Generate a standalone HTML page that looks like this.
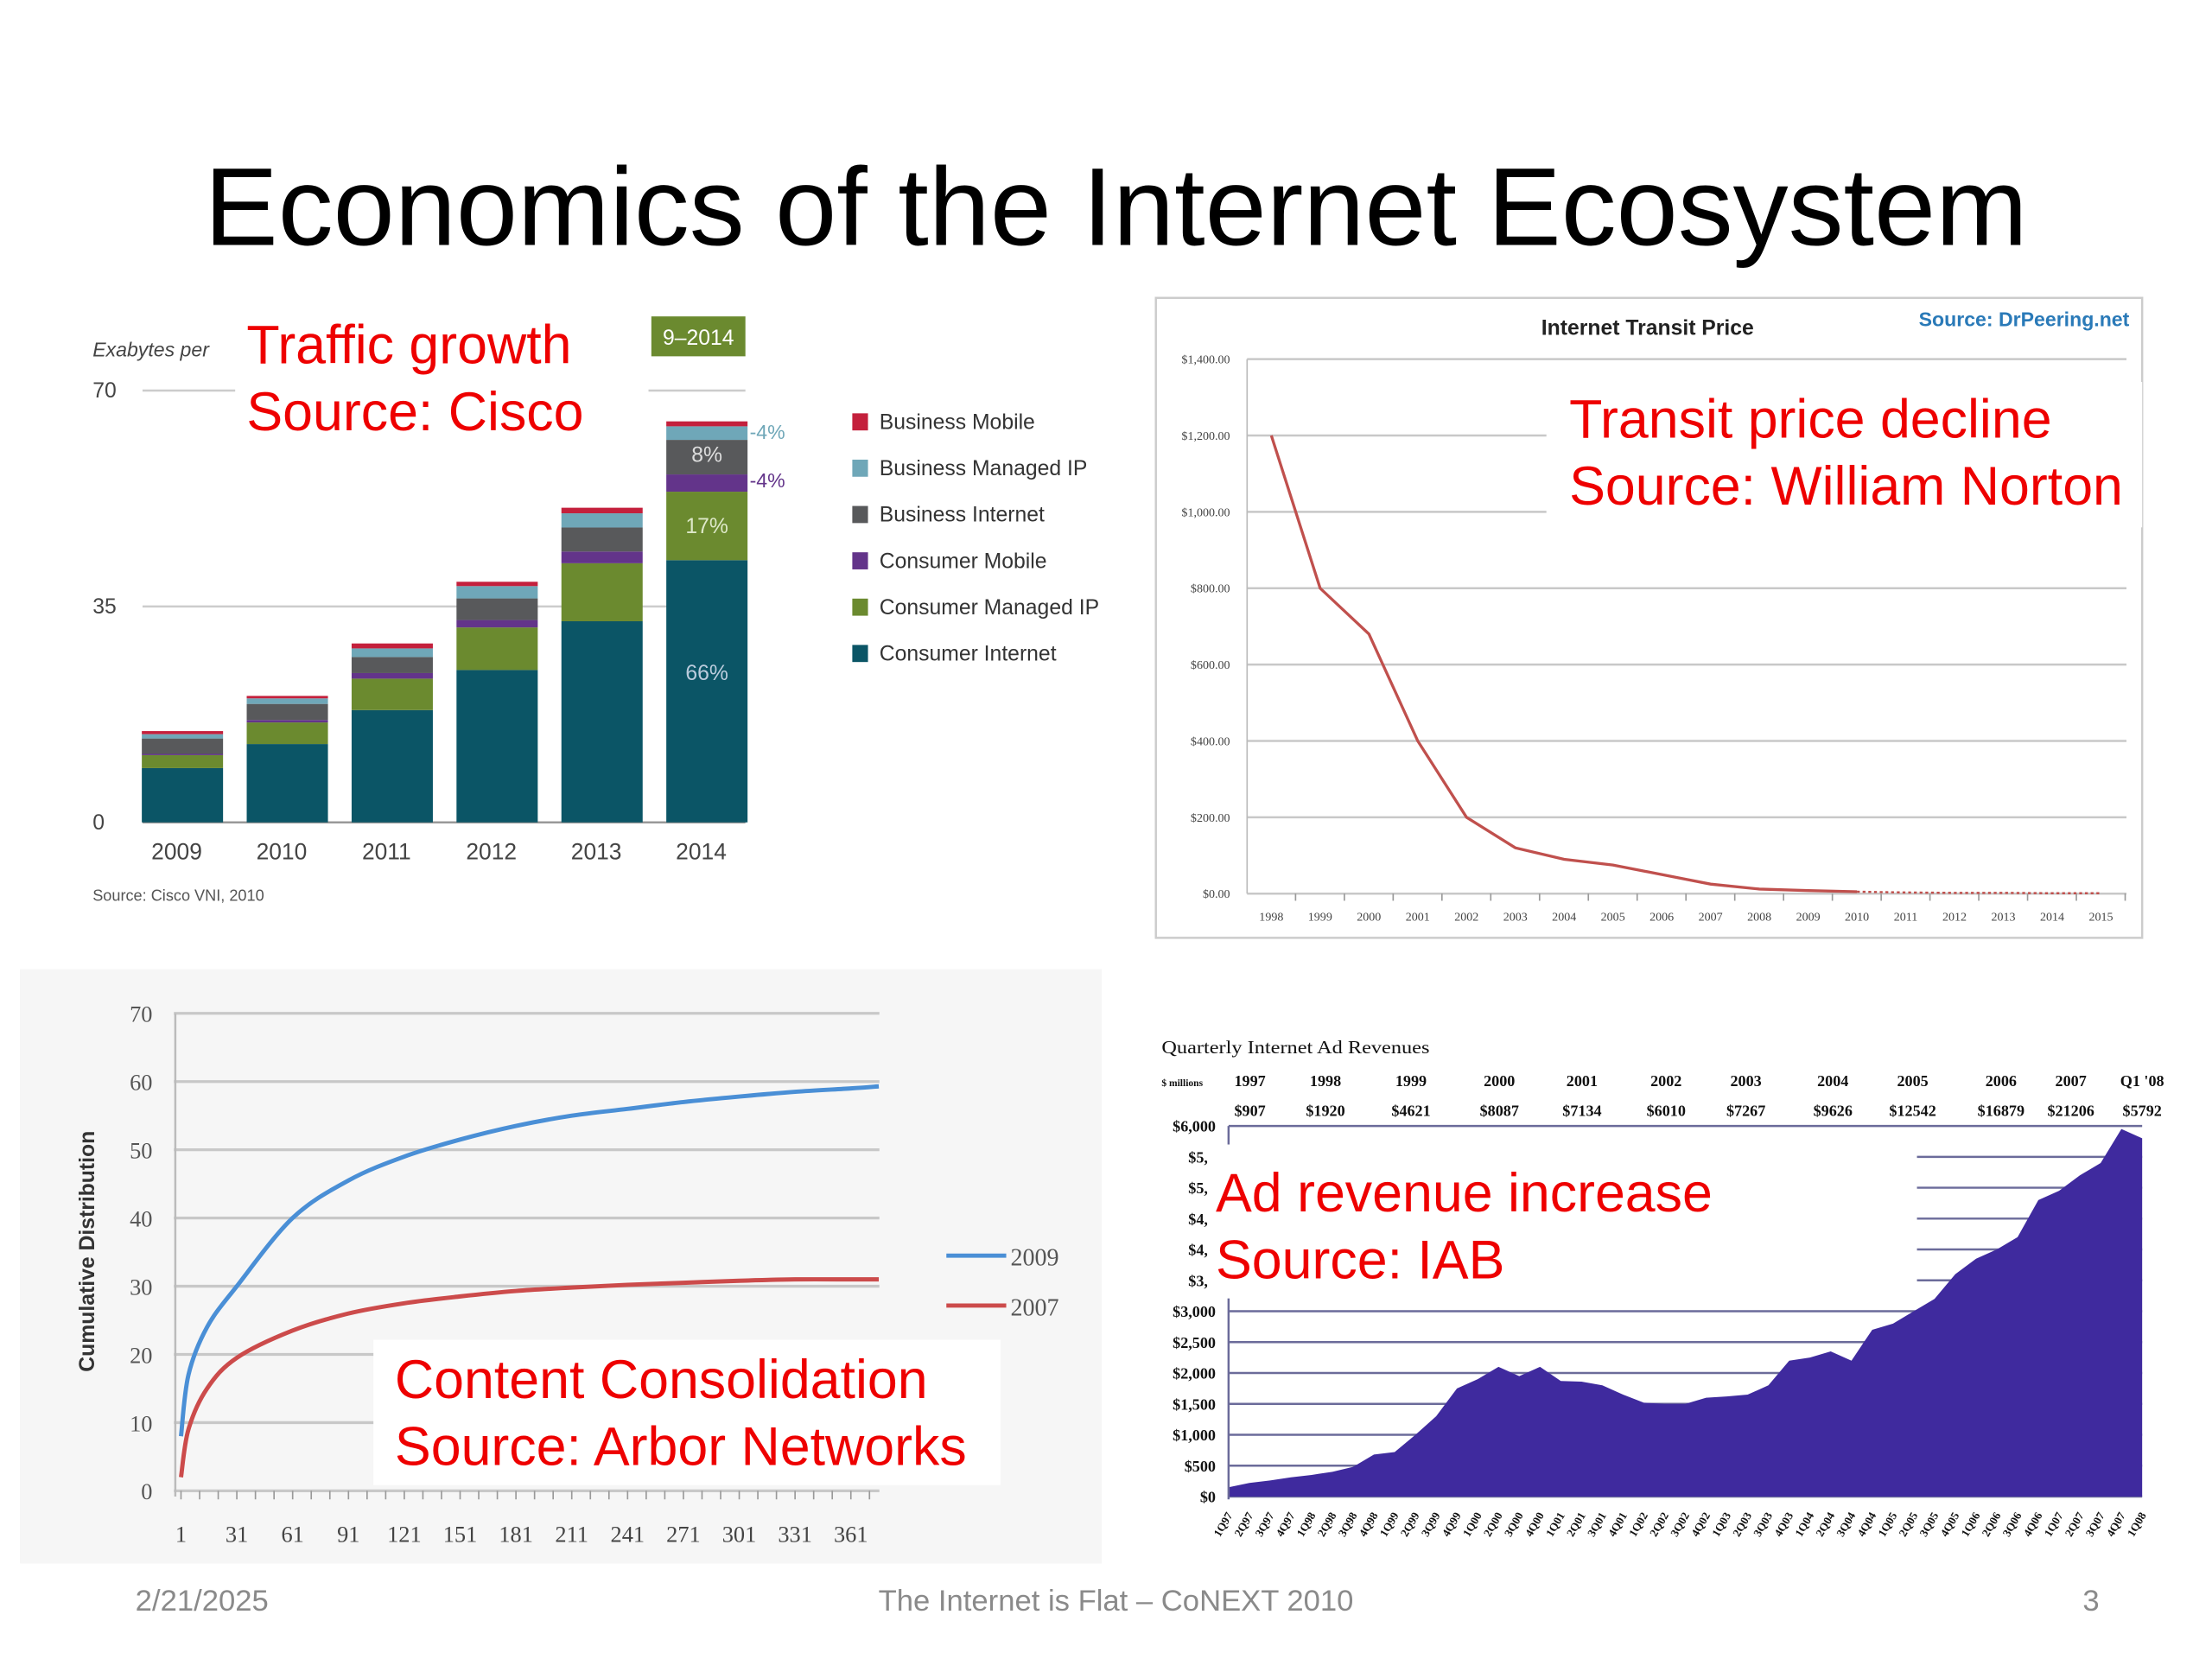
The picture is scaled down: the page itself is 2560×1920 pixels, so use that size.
<!DOCTYPE html>
<html><head><meta charset="utf-8"><style>
html,body{margin:0;padding:0;background:#fff;}
svg{display:block;}
text{font-family:"Liberation Sans",sans-serif;}
.serif{font-family:"Liberation Serif",serif;}
</style></head><body>
<svg id="root" width="2560" height="1920" viewBox="0 0 1552 1164" xmlns="http://www.w3.org/2000/svg">
<rect x="0" y="0" width="1552" height="1164" fill="#fff"/>
<text x="783" y="172" font-size="77.5" text-anchor="middle" fill="#000">Economics of the Internet Ecosystem</text>

<g id="p1">
<text x="65" y="250" font-size="14" font-style="italic" fill="#444">Exabytes per</text>
<text x="65" y="632" font-size="11" fill="#555">Source: Cisco VNI, 2010</text>
<rect x="457" y="222" width="66" height="28" fill="#6b8a2f"/>
<text x="490" y="242" font-size="15" fill="#fff" text-anchor="middle">9–2014</text>
</g>
<rect x="165" y="214" width="290" height="100" fill="#fff"/>
<text x="173" y="255" font-size="38" fill="#ee0000">Traffic growth</text>
<text x="173" y="302" font-size="38" fill="#ee0000">Source: Cisco</text>

<rect x="811" y="209" width="692" height="449" fill="#fff" stroke="#ccc" stroke-width="1.5"/>
<g id="p2">
<text x="1156" y="235" font-size="15" font-weight="bold" fill="#222" text-anchor="middle">Internet Transit Price</text>
<text x="1494" y="229" font-size="14" font-weight="bold" fill="#2a7ab8" text-anchor="end">Source: DrPeering.net</text>
</g>

<rect x="14" y="680" width="759" height="417" fill="#f6f6f6"/>
<g id="p3">
<text x="0" y="0" font-size="15" font-weight="bold" fill="#333" text-anchor="middle" transform="translate(66,878) rotate(-90)">Cumulative Distribution</text>
</g>

<g id="p4">
<text x="815" y="739" font-size="13" class="serif" fill="#111" textLength="188" lengthAdjust="spacingAndGlyphs">Quarterly Internet Ad Revenues</text>
<text x="815" y="762" font-size="7" font-weight="bold" class="serif" fill="#111">$ millions</text>
</g>
</svg>
<script>
const NS='http://www.w3.org/2000/svg';
const trafficYears=['2009','2010','2011','2012','2013','2014'];
const consumerInternet=[8.8,12.7,18.2,24.7,32.6,42.5];
const consumerManagedIP=[2.1,3.5,5.1,6.9,9.4,11.1];
const consumerMobile=[0.2,0.4,0.9,1.2,1.9,2.8];
const businessInternet=[2.5,2.6,2.6,3.5,3.9,5.6];
const businessManagedIP=[0.7,0.9,1.4,2.0,2.3,2.2];
const businessMobile=[0.5,0.4,0.8,0.7,0.9,0.8];
const trafficTicks=[0,35,70];
const transitYears=['1998','1999','2000','2001','2002','2003','2004','2005','2006','2007','2008','2009','2010','2011','2012','2013','2014','2015'];
const transitPrice=[1200,800,680,400,200,120,90,75,50,25,12,8,5,3,2,2,1,1];
const transitTicks=[0,200,400,600,800,1000,1200,1400];
const transitTickLabels=['$0.00','$200.00','$400.00','$600.00','$800.00','$1,000.00','$1,200.00','$1,400.00'];
const rankX=[1,5,15,31,61,91,121,151,181,211,241,271,301,331,361,376];
const cdf2009=[8,17,24,30,40,45.5,49,51.5,53.5,55,56,57,57.8,58.5,59,59.3];
const cdf2007=[2,9,15,19.5,23.5,26,27.5,28.5,29.3,29.8,30.2,30.5,30.8,31,31,31];
const cdfTicks=[0,10,20,30,40,50,60,70];
const rankTicks=[1,31,61,91,121,151,181,211,241,271,301,331,361];
const adRevenue=[150,220,260,310,350,400,480,680,720,1000,1300,1750,1900,2100,1950,2100,1870,1860,1800,1650,1520,1500,1500,1600,1620,1650,1800,2200,2250,2350,2200,2700,2800,3000,3200,3600,3850,4000,4200,4800,4950,5200,5400,5950,5800];
const adTicks=[0,500,1000,1500,2000,2500,3000,3500,4000,4500,5000,5500,6000];
const adTickLabels=['$0','$500','$1,000','$1,500','$2,000','$2,500','$3,000','$3,5','$4,0','$4,5','$5,0','$5,5','$6,000'];
const adYears=['1997','1998','1999','2000','2001','2002','2003','2004','2005','2006','2007',"Q1 '08"];
const adYearTotals=['$907','$1920','$4621','$8087','$7134','$6010','$7267','$9626','$12542','$16879','$21206','$5792'];
const adYearX=[877,930,990,1052,1110,1169,1225,1286,1342,1404,1453,1503];

function mk(tag,attrs,parent,txt){const e=document.createElementNS(NS,tag);for(const k in attrs)e.setAttribute(k,attrs[k]);if(txt!==undefined)e.textContent=txt;(parent||document.getElementById('root')).appendChild(e);return e;}

(function(){
const g=document.getElementById('p1');
const y=v=>577-v*(303/70);
const x=i=>128+i*73.6;
trafficTicks.forEach(t=>{
 const l=mk('line',{x1:100,x2:523,y1:y(t),y2:y(t),stroke:t===0?'#999':'#ccc','stroke-width':1.5},g);
 
 
 const tx=mk('text',{x:65,y:y(t)+5,'font-size':15,fill:'#444'},g,String(t));
 
 
});
const series=[consumerInternet,consumerManagedIP,consumerMobile,businessInternet,businessManagedIP,businessMobile];
const colors=['#0b5566','#6b8a2f','#63348a','#58595b','#6fa7b8','#c4203c'];
const names=['consumer-internet','consumer-managed-ip','consumer-mobile','business-internet','business-managed-ip','business-mobile'];
trafficYears.forEach((yr,i)=>{
 let base=0;
 series.forEach((s,k)=>{
  const r=mk('rect',{x:x(i)-28.5,width:57,y:y(base+s[i]),height:y(base)-y(base+s[i]),fill:colors[k]},g);
  
  
  base+=s[i];
 });
 const t=mk('text',{x:x(i)-4,y:603,'font-size':16,fill:'#444','text-anchor':'middle'},g,yr);
 
 
});
const lx=x(5);
const pl=[['8%',319,'#ddd'],['17%',369,'#dde8c8'],['66%',472,'#bcd']];
pl.forEach(p=>{const t=mk('text',{x:lx,y:p[1]+5,'font-size':15,fill:p[2],'text-anchor':'middle'},g,p[0]);
 
 });
const s1=mk('text',{x:526,y:308,'font-size':14,fill:'#6fa7b8'},g,'-4%');


const s2=mk('text',{x:526,y:342,'font-size':14,fill:'#63348a'},g,'-4%');


const legNames=['Business Mobile','Business Managed IP','Business Internet','Consumer Mobile','Consumer Managed IP','Consumer Internet'];
const legCols=['#c4203c','#6fa7b8','#58595b','#63348a','#6b8a2f','#0b5566'];
legNames.forEach((n,i)=>{
 const yy=296+i*32.5;
 const r=mk('rect',{x:598,y:yy-6,width:11,height:12,fill:legCols[i]},g);
 
 
 const t=mk('text',{x:617,y:yy+5,'font-size':15,fill:'#333'},g,n);
 
 
});
})();

(function(){
const g=document.getElementById('p2');
const y=v=>627-v*(375/1400);
const x=i=>892+i*34.24;
transitTicks.forEach((t,i)=>{
 const l=mk('line',{x1:875,x2:1492,y1:y(t),y2:y(t),stroke:'#c8c8c8','stroke-width':1.5},g);
 
 
 const tx=mk('text',{x:863,y:y(t)+3,'font-size':8.5,fill:'#444','text-anchor':'end',class:'serif'},g,transitTickLabels[i]);
 
 
});
const ax=mk('line',{x1:875,x2:875,y1:252,y2:627,stroke:'#bbb','stroke-width':1},g);


transitYears.forEach((yr,i)=>{
 const t=mk('text',{x:x(i),y:646,'font-size':8.5,fill:'#444','text-anchor':'middle',class:'serif'},g,yr);
 
 
 const tk=mk('line',{x1:x(i)+17,x2:x(i)+17,y1:627,y2:632,stroke:'#999'},g);
 
 
});
const solidN=13;
let d='';for(let i=0;i<solidN;i++)d+=(i?'L':'M')+x(i)+','+y(transitPrice[i]);
const p=mk('path',{d:d,fill:'none',stroke:'#c0504d','stroke-width':2},g);


let d2='';for(let i=solidN-1;i<transitPrice.length;i++)d2+=(i===solidN-1?'M':'L')+x(i)+','+y(transitPrice[i]);
const p2=mk('path',{d:d2,fill:'none',stroke:'#c0504d','stroke-width':1.5,'stroke-dasharray':'2,2'},g);


const box=mk('rect',{x:1085,y:268,width:418,height:102,fill:'#fff'},g);


const a1=mk('text',{x:1101,y:307,'font-size':38,fill:'#ee0000'},g,'Transit price decline');


const a2=mk('text',{x:1101,y:354,'font-size':38,fill:'#ee0000'},g,'Source: William Norton');


})();

(function(){
const g=document.getElementById('p3');
const y=v=>1046-v*(335/70);
const x=v=>127+(v-1)*470/360;
cdfTicks.forEach(t=>{
 const l=mk('line',{x1:122,x2:617,y1:y(t),y2:y(t),stroke:'#c8c8c8','stroke-width':2},g);
 
 
 const tx=mk('text',{x:107,y:y(t)+6,'font-size':16,fill:'#555','text-anchor':'end',class:'serif'},g,String(t));
 
 
});
const ax=mk('line',{x1:123,x2:123,y1:y(70),y2:1050,stroke:'#bbb','stroke-width':1.5},g);


for(let v=1;v<=376;v+=10){const tk=mk('line',{x1:x(v),x2:x(v),y1:1046,y2:1052,stroke:'#999'},g);
 
 }
rankTicks.forEach(t=>{const tx=mk('text',{x:x(t),y:1082,'font-size':16,fill:'#444','text-anchor':'middle',class:'serif'},g,String(t));
 
 });
function curve(arr){
 const P=rankX.map((r,i)=>[x(r),y(arr[i])]);
 let d='M'+P[0][0]+','+P[0][1];
 for(let i=0;i<P.length-1;i++){
  const p0=P[Math.max(0,i-1)],p1=P[i],p2=P[i+1],p3=P[Math.min(P.length-1,i+2)];
  const c1x=p1[0]+(p2[0]-p0[0])/6,c1y=p1[1]+(p2[1]-p0[1])/6;
  const c2x=p2[0]-(p3[0]-p1[0])/6,c2y=p2[1]-(p3[1]-p1[1])/6;
  d+='C'+c1x+','+c1y+' '+c2x+','+c2y+' '+p2[0]+','+p2[1];
 }
 return d;}
const c1=mk('path',{d:curve(cdf2009),fill:'none',stroke:'#4a8fd6','stroke-width':3},g);


const c2=mk('path',{d:curve(cdf2007),fill:'none',stroke:'#cc4b4b','stroke-width':3},g);


[['2009','#4a8fd6',881],['2007','#cc4b4b',916]].forEach(L=>{
 const l=mk('line',{x1:664,x2:706,y1:L[2],y2:L[2],stroke:L[1],'stroke-width':3},g);
 
 
 const t=mk('text',{x:709,y:L[2]+7,'font-size':17,fill:'#555',class:'serif'},g,L[0]);
 
 
});
const box=mk('rect',{x:262,y:940,width:440,height:102,fill:'#fff'},g);


const a1=mk('text',{x:277,y:981,'font-size':38,fill:'#ee0000'},g,'Content Consolidation');


const a2=mk('text',{x:277,y:1028,'font-size':38,fill:'#ee0000'},g,'Source: Arbor Networks');


})();

(function(){
const g=document.getElementById('p4');
const y=v=>1050-v*(260/6000);
const x=i=>862+i*(641/(adRevenue.length-1));
adYears.forEach((yr,i)=>{
 const t=mk('text',{x:adYearX[i],y:762,'font-size':11,'font-weight':'bold',fill:'#111','text-anchor':'middle',class:'serif'},g,yr);
 
 
 const v=mk('text',{x:adYearX[i],y:783,'font-size':11,'font-weight':'bold',fill:'#111','text-anchor':'middle',class:'serif'},g,adYearTotals[i]);
 
 
});
adTicks.forEach((t,i)=>{
 const l=mk('line',{x1:862,x2:1503,y1:y(t),y2:y(t),stroke:'#6b6b9a','stroke-width':1.5},g);
 
 
 const tx=mk('text',{x:853,y:y(t)+4,'font-size':11,'font-weight':'bold',fill:'#111','text-anchor':'end',class:'serif'},g,adTickLabels[i]);
 
 
});
let d='M'+x(0)+','+y(0);
adRevenue.forEach((v,i)=>{d+='L'+x(i)+','+y(v);});
d+='L'+x(adRevenue.length-1)+','+y(0)+'Z';
const a=mk('path',{d:d,fill:'#3f2a9e'},g);


const ax=mk('line',{x1:862,x2:862,y1:790,y2:1052,stroke:'#6b6b9a','stroke-width':1.5},g);


adRevenue.forEach((v,i)=>{
 const q=(i%4)+1;const yr=String((97+Math.floor(i/4))%100).padStart(2,'0');
 const lbl=q+'Q'+yr;
 const t=mk('text',{x:0,y:0,'font-size':8,'font-weight':'bold',fill:'#111',class:'serif','text-anchor':'end',transform:'translate('+(x(i)+3)+',1063) rotate(-60)'},g,lbl);
 
 
});
const box=mk('rect',{x:847,y:803,width:498,height:108,fill:'#fff'},g);


const a1=mk('text',{x:853,y:850,'font-size':38,fill:'#ee0000'},g,'Ad revenue increase');


const a2=mk('text',{x:853,y:897,'font-size':38,fill:'#ee0000'},g,'Source: IAB');


})();

const f1=mk('text',{x:95,y:1130,'font-size':21,fill:'#8a8a8a'},null,'2/21/2025');


const f2=mk('text',{x:783,y:1130,'font-size':21,fill:'#8a8a8a','text-anchor':'middle'},null,'The Internet is Flat – CoNEXT 2010');


const f3=mk('text',{x:1473,y:1130,'font-size':21,fill:'#8a8a8a','text-anchor':'end'},null,'3');


</script>
</body></html>
